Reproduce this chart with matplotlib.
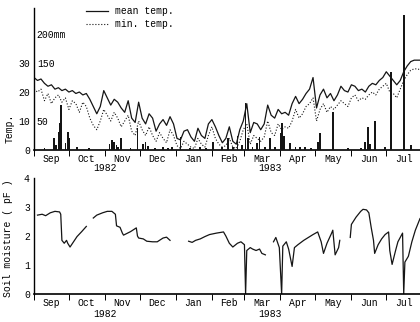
import numpy as np
import pandas as pd
import matplotlib
matplotlib.use('Agg')
import matplotlib.pyplot as plt
import matplotlib.dates as mdates
from matplotlib.transforms import blended_transform_factory

plt.rcParams['font.family'] = ['Liberation Mono', 'DejaVu Sans Mono']

start = pd.Timestamp('1982-09-01')

# temperature, every 3 days from 1 Sep 1982
temp_days = np.arange(0, 334, 3)
mean_temp = [25, 24, 24.5, 23, 22, 22.5, 21, 21.5, 20.5, 21,
             20, 20.5, 19.5, 20, 19, 19.5, 17.5, 15, 12.5, 15,
             20.5, 18, 15.5, 17.5, 16.5, 14.5, 13, 17, 11, 9.5,
             16.5, 11, 9, 12.5, 11, 6.5, 9, 10.5, 8.5, 11.5,
             9, 4, 3.5, 6.5, 7, 4.5, 3, 7.5, 5, 4,
             9, 10.5, 8, 5, 2.5, 4, 8, 3, 2, 7,
             10, 16, 6, 9.5, 9, 7, 9, 15.5, 12, 11,
             14, 12.5, 13, 12, 16, 18.5, 16, 17.5, 19.5, 21,
             25, 14.5, 19, 21, 18, 19.5, 17, 19, 22, 20.5,
             20, 22.5, 22, 20.5, 21, 20, 22, 23, 22.5, 24,
             25, 27, 25.5, 24, 22.5, 24, 27, 29, 30.5, 31,
             31, 31]
min_temp = [21, 20, 21, 17, 19.5, 16, 18, 19, 16.5, 18,
            14, 17, 16, 13, 16.5, 15, 11, 8.5, 7, 10,
            14, 12, 10, 13, 11, 8, 10, 12, 6.5, 5,
            10, 7, 5, 8, 5, 3, 6, 4, 2.5, 7,
            5, 1.5, 0.5, 3, 2, 1, 0.5, 4, 2, 1,
            5, 8, 4, 2, 1, 1.5, 4, 1, 0.5, 3,
            7, 9, 2, 5, 4, 3, 4.5, 10, 6, 5,
            9, 7, 8, 7.5, 10, 14, 11, 12.5, 15, 16,
            18, 10, 14, 16, 13, 15, 14, 15.5, 17, 16,
            15, 18, 19, 17, 18, 17.5, 19, 20, 19, 21,
            22, 23, 20, 19.5, 18, 21, 24, 26, 27.5, 28,
            28, 27.5]

# daily rainfall (mm), days after 1 Sep 1982
rain_days = [9, 17, 19, 21, 22, 23, 27, 29, 30, 37, 47, 65, 67, 69, 71, 72, 75,
             83, 89, 94, 96, 98, 104, 111, 115, 119, 126, 134, 143, 148, 154,
             162, 167, 171, 175, 179, 182, 184, 188, 192, 194, 199, 203, 207,
             212, 213, 215, 220, 225, 229, 233, 238, 244, 246, 257, 270, 281,
             285, 287, 289, 293, 302, 307, 318, 324]
rain_mm = [4, 20, 8, 31, 47, 78, 12, 31, 20, 5, 4, 10, 17, 14, 9, 6, 20,
           4, 38, 10, 14, 7, 4, 5, 3, 6, 23, 4, 5, 3, 14,
           5, 20, 5, 25, 8, 81, 20, 6, 12, 22, 6, 20, 6,
           30, 46, 25, 12, 6, 5, 5, 4, 14, 30, 65, 4, 4,
           14, 40, 10, 50, 5, 134, 233, 8]

# soil moisture (pF), nan = no record
soil_days = [3, 7, 10, 14, 18, 22, 23, 24, 26, 28, 29, 31, 34, 37, 41, 45, 48,
             51, 54, 59, 63, 67, 70, 71, 74, 76, 77, 83, 88, 89, 90, 94, 97, 102,
             106, 111, 114, 117, 125,
             133, 136, 139, 143, 147, 151, 157, 163, 165, 168, 171, 175, 178,
             181, 182, 183, 186, 188, 191, 194, 196, 199, 203,
             206, 208, 211, 213, 214, 217, 219, 222, 224, 227, 232, 236, 240,
             244, 247, 249, 252, 256, 257, 259, 262, 263, 268,
             272, 273, 277, 281, 283, 286, 288, 290, 292, 293, 296, 299, 302,
             305, 306, 308, 311, 313, 317, 318, 319, 322, 325, 328, 332]
soil_pf = [2.72, 2.75, 2.70, 2.80, 2.85, 2.83, 2.75, 1.85, 1.75, 1.85, 1.75,
           1.62, 1.8, 1.98, 2.15, 2.33, np.nan,
           2.62, 2.72, 2.8, 2.85, 2.85, 2.75, 2.35, 2.3, 2.1, 2.03, 2.15, 2.28,
           2.0, 1.93, 1.9, 1.82, 1.8, 1.8, 1.93, 1.96, 1.85, np.nan,
           1.82, 1.78, 1.85, 1.9, 1.98, 2.05, 2.1, 2.14, 2.0, 1.75, 1.62, 1.75,
           1.8, 1.7, 0.0, 1.5, 1.6, 1.55, 1.5, 1.55, 1.4, 1.35, np.nan,
           1.8, 1.95, 1.6, 0.0, 1.65, 1.8, 1.55, 0.95, 1.6, 1.7, 1.85, 1.95,
           2.05, 2.14, 1.8, 1.4, 1.75, 2.1, 2.2, 1.35, 1.6, 1.85, np.nan,
           1.95, 2.4, 2.65, 2.85, 2.92, 2.9, 2.8, 2.3, 1.85, 1.4, 1.7, 1.9,
           2.05, 2.14, 1.5, 1.02, 1.5, 1.8, 2.1, 0.0, 1.1, 1.3, 1.8, 2.2, 2.6]

def to_dates(days):
    return start + pd.to_timedelta(np.asarray(days), unit='D')

fig = plt.figure(figsize=(4.2, 3.22), dpi=100)
ax = fig.add_axes([34/420, 1-150/322, 386/420, 142/322])
ax2 = ax.twinx()
bx = fig.add_axes([34/420, 1-294/322, 386/420, 116/322])

ink = '#151515'
xmin, xmax = start, start + pd.Timedelta(days=332)

ax.plot(to_dates(temp_days), mean_temp, color=ink, lw=0.9, label='mean temp.')
ax.plot(to_dates(temp_days), min_temp, color=ink, lw=0.8, ls=':', label='min. temp.')
ax2.bar(to_dates(rain_days), rain_mm, width=1.5, color=ink)
ax.set_ylim(0, 49)
ax2.set_ylim(0, 245)

bx.plot(to_dates(soil_days), soil_pf, color=ink, lw=0.9)
bx.set_ylim(0, 4)

for a in (ax, ax2, bx):
    a.set_xlim(xmin, xmax)
    a.spines['top'].set_visible(False)
    a.spines['right'].set_visible(False)
ax2.spines['left'].set_visible(False)
ax2.spines['bottom'].set_visible(False)

for a in (ax, bx):
    a.xaxis.set_major_locator(mdates.MonthLocator(bymonthday=16))
    a.xaxis.set_major_formatter(mdates.DateFormatter('%b'))
    a.xaxis.set_minor_locator(mdates.MonthLocator())
    a.tick_params(axis='x', which='major', length=0, pad=3, labelsize=7)
    a.tick_params(axis='x', which='minor', length=4, width=0.7, direction='out')
    a.tick_params(axis='y', length=0, labelsize=7, pad=3)
    a.spines['left'].set_linewidth(1.0)
    a.spines['bottom'].set_linewidth(1.2)
    tr = blended_transform_factory(a.transData, a.transAxes)
    yy = -18/142 if a is ax else -20/116
    a.text(start + pd.Timedelta(days=61), yy, '1982', transform=tr, ha='center', va='center', fontsize=7)
    a.text(start + pd.Timedelta(days=203), yy, '1983', transform=tr, ha='center', va='center', fontsize=7)

ax.set_yticks([0, 10, 20, 30])
bx.set_yticks([0, 1, 2, 3, 4])

ax2.yaxis.tick_left()
ax2.set_yticks([50, 150, 200])
ax2.set_yticklabels(['50', '150', '200mm'], ha='left')
ax2.tick_params(axis='y', length=0, pad=-2, labelsize=7)

ax.legend(loc='upper left', bbox_to_anchor=(0.125, 1.04), frameon=False,
          fontsize=7, handlelength=2.2, handletextpad=0.8, labelspacing=0.3,
          borderaxespad=0)

fig.text(10/420, 1-128/322, 'Temp.', rotation=90, ha='center', va='center', fontsize=7)
fig.text(8/420, 1-238/322, 'Soil moisture ( pF )', rotation=90, ha='center', va='center', fontsize=7)

fig.savefig('out.png', dpi=100)
